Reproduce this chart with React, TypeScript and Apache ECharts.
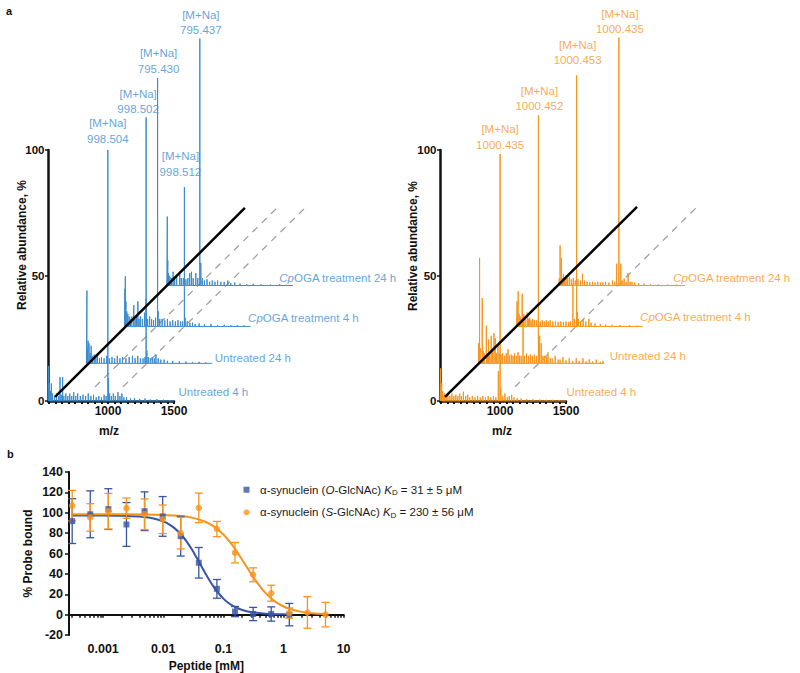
import React, { useEffect, useRef } from 'react';
import * as echarts from 'echarts';

const FONT = 'Arial';
const INK = '#111111';
const BLUE_A = '#3b8ccf';
const ORANGE = '#f7941d';
const BLUE_B = '#3a54a5';
const GREY_DASH = '#9a9a9a';

// ---------------- Panel a : stacked mass spectra ----------------
const traceNames = ['Untreated 4 h', 'Untreated 24 h', 'CpOGA treatment 4 h', 'CpOGA treatment 24 h'];
const traceShiftMz = [0, 290, 580, 900];
const traceShiftPct = [0, 15, 29.7, 46];
const spectrumStart = 546;
const spectrumEnd = 1500;
const mzMin = 545;
const mzMax = 1500;
const mzDataMax = 2500;
const mzLabelValues = [1000, 1500];
const mzTickValues = [550, 600, 650, 700, 750, 800, 850, 900, 950, 1000, 1050, 1100, 1150, 1200, 1250, 1300, 1350, 1400, 1450, 1500];
const abundanceMin = 0;
const abundanceMax = 100;
const abundanceStep = 50;

// minor peaks [m/z, relative abundance %] per trace (left, O-GlcNAc peptide)
const leftU4: number[][] = [[550, 14], [556, 7], [563, 4], [570, 7], [580, 3], [595, 2], [610, 3], [625, 2], [636, 9.5], [645, 2.5], [656, 9.5], [665, 2], [680, 3], [695, 2], [710, 3], [725, 2], [740, 3.5], [755, 2], [770, 3], [790, 2], [810, 2.5], [830, 2], [850, 3], [870, 2], [890, 2.5], [910, 1.5], [930, 2], [950, 1.5], [970, 2.5], [985, 2], [1004, 9], [1012, 3], [1025, 2], [1040, 3], [1055, 2], [1075, 3.5], [1090, 2], [1105, 3], [1120, 1.5], [1140, 1.5], [1170, 1], [1200, 1.2], [1240, 0.8], [1280, 1], [1320, 0.6], [1370, 0.7], [1420, 0.5], [1470, 0.4]];
const leftU24: number[][] = [[550, 29], [554, 6], [559, 9], [566, 8], [574, 4], [582, 7], [592, 3], [605, 3.5], [618, 2.5], [630, 3], [645, 2], [660, 2.5], [680, 2], [700, 3], [720, 2], [740, 2.5], [760, 2], [780, 3], [800, 2], [820, 2.5], [845, 2], [870, 2.5], [895, 3], [915, 2], [935, 3], [955, 2], [975, 2], [990, 2.5], [1004, 5], [1015, 2.5], [1030, 2], [1045, 2.5], [1060, 2], [1073, 3.5], [1090, 2], [1110, 1.5], [1135, 1.5], [1160, 1], [1200, 1], [1250, 0.8], [1300, 0.7], [1350, 0.5], [1400, 0.6], [1450, 0.4]];
const leftC4: number[][] = [[548, 15], [551, 20], [556, 10], [562, 6], [570, 5], [580, 4], [590, 3], [600, 4], [615, 8.5], [625, 3], [635, 4], [646, 10], [655, 3], [665, 4], [680, 3], [696, 5.5], [709, 11], [720, 3], [735, 4], [750, 3], [765, 2.5], [780, 3.5], [800, 6], [812, 3], [830, 3], [850, 2.5], [870, 3], [890, 2], [910, 2.5], [930, 2], [950, 2.5], [970, 2], [985, 2], [1004, 3.5], [1020, 2], [1040, 1.5], [1060, 1.5], [1080, 1], [1110, 1.2], [1150, 0.8], [1200, 1], [1250, 0.6], [1300, 0.7], [1350, 0.5], [1400, 0.5], [1450, 0.4]];
const leftC24: number[][] = [[549, 27.5], [553, 10], [557, 5], [562, 4], [570, 3.5], [580, 3], [593, 5.5], [605, 3], [620, 3.5], [643, 5.5], [655, 3], [670, 3], [690, 2.5], [705, 3], [719, 5], [732, 5.5], [745, 3], [765, 5], [780, 3], [803, 9], [815, 3], [830, 2], [850, 2.5], [870, 1.5], [890, 2], [910, 1.5], [930, 2], [955, 1.5], [980, 1.5], [1007, 2], [1030, 1], [1060, 1.2], [1100, 0.8], [1150, 0.6], [1200, 0.7], [1260, 0.5], [1330, 0.4], [1400, 0.5], [1450, 0.3]];
const leftMinor = [leftU4, leftU24, leftC4, leftC24];
const leftMajor = [
  { trace: 0, mz: 998.504, pct: 100 },
  { trace: 1, mz: 998.502, pct: 98 },
  { trace: 2, mz: 795.43, pct: 99 },
  { trace: 2, mz: 998.512, pct: 55.5 },
  { trace: 3, mz: 795.437, pct: 98.4 },
];

// right, S-GlcNAc peptide
const rightU4: number[][] = [[550, 13], [553, 6], [558, 7], [565, 4], [572, 2.5], [580, 3], [592, 2], [605, 3], [620, 2], [635, 3], [650, 2], [665, 2.5], [680, 2], [695, 3], [708, 2], [722, 3.7], [740, 2], [755, 2.5], [770, 1.5], [790, 2], [810, 1.5], [830, 2], [850, 1.5], [870, 2], [890, 1.5], [910, 2], [930, 1.5], [950, 2], [968, 1.5], [987, 12], [1006, 5], [1020, 2], [1037, 3], [1055, 1.5], [1070, 2], [1088, 2.5], [1105, 1.5], [1130, 1.2], [1160, 1], [1200, 0.8], [1250, 0.7], [1300, 0.6], [1350, 0.5], [1400, 0.5], [1450, 0.4]];
const rightU24: number[][] = [[548, 8], [555, 42], [560, 6], [575, 26], [582, 5], [590, 4], [606, 15], [615, 4], [623, 9.5], [632, 4], [643, 11], [652, 5], [664, 12], [674, 10], [684, 4], [694, 7], [705, 4], [718, 3.5], [730, 4], [745, 3], [757, 4], [770, 5.6], [782, 3], [795, 3.5], [808, 3], [820, 4], [833, 3], [846, 4.4], [858, 3], [870, 3], [884, 16], [895, 3], [910, 4], [925, 3], [940, 3.5], [955, 3], [970, 3.5], [985, 3], [1010, 11], [1022, 8], [1035, 3], [1048, 3], [1062, 2.5], [1073, 4.4], [1090, 2], [1105, 2], [1128, 3], [1150, 1.5], [1165, 1.5], [1187, 2.4], [1210, 1.2], [1234, 2], [1260, 1], [1287, 2], [1310, 1], [1338, 2], [1362, 0.8], [1386, 1.6], [1410, 0.8], [1439, 1.5], [1470, 0.6], [1490, 1]];
const rightC4: number[][] = [[549, 10], [553, 4], [558, 14], [565, 5], [572, 4], [580, 3], [588, 13], [595, 3], [600, 5], [610, 3], [626, 5.6], [635, 3], [645, 3.5], [655, 2.5], [668, 3], [680, 2.5], [695, 2.5], [710, 3], [725, 2], [740, 2.5], [755, 2], [770, 2.5], [785, 2], [800, 2.5], [820, 2], [840, 2], [860, 1.8], [880, 2], [900, 1.8], [920, 2], [940, 1.8], [955, 2], [972, 17], [985, 3], [1006, 5.7], [1015, 3], [1030, 2], [1050, 3], [1070, 2], [1093, 3], [1110, 1.5], [1140, 1.2], [1180, 1], [1220, 0.8], [1270, 0.7], [1330, 0.6], [1400, 0.5], [1460, 0.4]];
const rightC24: number[][] = [[549, 3], [555, 16], [565, 11], [572, 3], [581, 4.7], [590, 3], [600, 4], [612, 3], [625, 3.5], [640, 2.5], [655, 3], [670, 2], [690, 2.5], [710, 2], [725, 4.7], [740, 2], [760, 1.5], [780, 1.3], [800, 1.5], [820, 1.2], [840, 1.5], [860, 1.2], [880, 1.3], [900, 1.5], [925, 1.2], [952, 2], [970, 1.5], [984, 8.7], [1015, 8.7], [1025, 2], [1040, 2.8], [1055, 1.5], [1070, 5], [1085, 1.5], [1100, 1.5], [1120, 1.2], [1150, 1], [1190, 0.8], [1240, 0.6], [1300, 0.5], [1370, 0.4], [1440, 0.4]];
const rightMinor = [rightU4, rightU24, rightC4, rightC24];
const rightMajor = [
  { trace: 0, mz: 1000.435, pct: 98.4 },
  { trace: 1, mz: 1000.452, pct: 98.8 },
  { trace: 2, mz: 1000.453, pct: 100 },
  { trace: 3, mz: 1000.435, pct: 98.8 },
];

// guide lines (m/z in the shifted frame, %)
const leftGuide = [[598, 1.6], [2037, 76.9]];
const leftDashed = [[[901, 5.6], [2280, 76.9]], [[1113, 5.6], [2492, 76.9]]];
const rightGuide = [[583, 1.6], [2038, 77.3]];
const rightDashed = [[[1113, 5.6], [2492, 77.3]]];

// label nudges (px) – style only
const leftMajorShift = [[0, -3], [-8, 0], [1, -1], [-4, -7], [1, 0]];
const rightMajorShift = [[0, -1], [1, -1], [1, -7], [1, 0]];
const leftTraceLabelShift = [[4, -9], [2, -5], [-3, -8], [-14, -8]];
const rightTraceLabelShift = [[0, -9], [5, -7], [-3, -9], [-12, -8]];

// ---------------- Panel b : binding curves ----------------
const concMM = [0.000305, 0.00061, 0.00122, 0.00244, 0.00488, 0.00977, 0.0195, 0.039, 0.078, 0.156, 0.3125, 0.625, 1.25, 2.5, 5];
const oGlcMean = [91.8, 98.5, 103.6, 88.5, 101.5, 96.4, 77, 50.9, 25.3, 3, 0.6, 0.6, 0];
const oGlcErr = [22, 23, 20, 21.5, 19, 19.5, 19.5, 15, 9.2, 5, 6.5, 7, 11];
const sGlcMean = [107, 95.4, 101.5, 104.5, 98.5, 93.6, 80, 104.8, 84, 60.8, 39.1, 21, 1.5, 2.1, 0];
const sGlcErr = [15, 13.5, 17.5, 10, 15, 14, 15.5, 14.5, 7.5, 10, 6.8, 7.8, 5, 15.5, 12];
const oFitX = [0.000305, 0.001, 0.002, 0.004, 0.006, 0.008, 0.01, 0.0125, 0.015, 0.02, 0.025, 0.03, 0.035, 0.04, 0.05, 0.06, 0.07, 0.08, 0.1, 0.12, 0.15, 0.2, 0.3, 0.5, 0.8, 1.25];
const oFitY = [97.4, 97.3, 97.0, 96.2, 95.0, 93.4, 91.5, 88.6, 85.4, 78.4, 71.0, 63.9, 57.1, 51.0, 40.7, 32.8, 26.8, 22.2, 15.7, 11.7, 8.0, 4.8, 2.3, 0.9, 0.4, 0.1];
const sFitX = [0.000305, 0.001, 0.005, 0.01, 0.02, 0.03, 0.05, 0.07, 0.1, 0.13, 0.16, 0.2, 0.25, 0.3, 0.4, 0.5, 0.7, 1.0, 1.5, 2.0, 3.0, 5.0];
const sFitY = [98.5, 98.5, 98.3, 97.9, 96.8, 95.2, 91.2, 86.4, 78.6, 70.9, 63.5, 54.9, 45.9, 38.6, 28.2, 21.4, 13.5, 8.0, 4.3, 2.7, 1.4, 0.6];
const concLabelValues = [0.001, 0.01, 0.1, 1, 10];
const concMin = 0.00027;
const concMax = 10;
const boundMin = -20;
const boundMax = 140;
const boundStep = 20;
const legendNames = ['O', 'S'];

function buildTrace(peaks: number[][], k: number): number[][] {
  const sx = traceShiftMz[k];
  const sy = traceShiftPct[k];
  const pts: number[][] = [[spectrumStart + sx, sy]];
  for (const [mz, h] of peaks) {
    pts.push([mz + sx, sy], [mz + sx, sy + h], [mz + sx, sy]);
  }
  pts.push([spectrumEnd + sx, sy]);
  return pts;
}

const richTrace = (name: string) =>
  name.startsWith('Cp') ? `{i|Cp}{t|${name.slice(2)}}` : `{t|${name}}`;

function spectrumSeries(
  xi: number,
  minor: number[][][],
  major: { trace: number; mz: number; pct: number }[],
  majorShift: number[][],
  traceShift: number[][],
  guide: number[][],
  dashed: number[][][],
  color: string
) {
  const out: any[] = [];
  dashed.forEach((seg) =>
    out.push({
      type: 'line', xAxisIndex: xi, yAxisIndex: xi, data: seg, symbol: 'none', clip: false, silent: true, z: 2,
      lineStyle: { color: GREY_DASH, width: 1.2, type: [7, 6] },
    })
  );
  minor.forEach((peaks, k) => {
    const all = peaks
      .concat(major.filter((m) => m.trace === k).map((m) => [m.mz, m.pct]))
      .sort((a, b) => a[0] - b[0]);
    out.push({
      type: 'line', xAxisIndex: xi, yAxisIndex: xi, data: buildTrace(all, k), symbol: 'none', clip: false,
      silent: true, z: 3, lineStyle: { color, width: 1 },
    });
  });
  out.push({
    type: 'line', xAxisIndex: xi, yAxisIndex: xi, data: guide, symbol: 'none', clip: false, silent: true, z: 4,
    lineStyle: { color: '#000', width: 2.5 },
  });
  out.push({
    type: 'scatter', xAxisIndex: xi, yAxisIndex: xi, symbolSize: 1, clip: false, silent: true, z: 5,
    itemStyle: { color: 'rgba(0,0,0,0)' },
    data: major.map((m, i) => ({
      value: [m.mz + traceShiftMz[m.trace], m.pct + traceShiftPct[m.trace]],
      label: { offset: majorShift[i] },
    })),
    label: {
      show: true, position: 'top', distance: 0, color, fontSize: 11.5, lineHeight: 15.5, fontFamily: FONT,
      align: 'center',
      formatter: (p: any) => '[M+Na]\n' + major[p.dataIndex].mz.toFixed(3),
    },
  });
  out.push({
    type: 'scatter', xAxisIndex: xi, yAxisIndex: xi, symbolSize: 1, clip: false, silent: true, z: 6,
    itemStyle: { color: 'rgba(0,0,0,0)' },
    data: traceNames.map((n, k) => ({
      value: [spectrumEnd + traceShiftMz[k], traceShiftPct[k]],
      label: { offset: traceShift[k] },
    })),
    label: {
      show: true, position: 'right', distance: 0,
      formatter: (p: any) => richTrace(traceNames[p.dataIndex]),
      rich: {
        t: { color, fontSize: 11.5, fontFamily: FONT },
        i: { color, fontSize: 11.5, fontFamily: FONT, fontStyle: 'italic' },
      },
    },
  });
  return out;
}

function spectrumAxes(xi: number) {
  return {
    x: [
      {
        gridIndex: xi - 1, type: 'value', min: mzMin, max: mzMax,
        axisLine: { show: true, onZero: false, lineStyle: { color: INK, width: 2.5 } },
        axisTick: { show: true, customValues: mzTickValues, length: 3, lineStyle: { color: INK, width: 2 } },
        axisLabel: {
          customValues: mzLabelValues, color: INK, fontWeight: 'bold', fontSize: 12, fontFamily: FONT, margin: 4,
          formatter: (v: number) => String(Math.round(v)),
        },
        splitLine: { show: false },
      },
      { gridIndex: xi, type: 'value', min: mzMin, max: mzDataMax, show: false },
    ],
    y: [
      {
        gridIndex: xi - 1, type: 'value', min: abundanceMin, max: abundanceMax, interval: abundanceStep,
        axisLine: { show: true, onZero: false, lineStyle: { color: INK, width: 2.5 } },
        axisTick: { show: true, length: 3, lineStyle: { color: INK, width: 1.5 } },
        axisLabel: { color: INK, fontWeight: 'bold', fontSize: 11.5, fontFamily: FONT, margin: 3.5 },
        splitLine: { show: false },
      },
      { gridIndex: xi, type: 'value', min: abundanceMin, max: abundanceMax, show: false },
    ],
  };
}

const logMinorTicks: number[] = [];
[0.0001, 0.001, 0.01, 0.1, 1].forEach((d) => {
  for (let m = 1; m <= 9; m++) {
    const v = +(d * m).toPrecision(3);
    if (v >= concMin && v <= concMax) logMinorTicks.push(v);
  }
});
logMinorTicks.push(10);

const legendText: Record<string, string> = {
  O: '{p|α-synuclein (}{i|O}{t|-GlcNAc) }{i|K}{s|D}{t| = 31 ± 5 μM}',
  S: '{p|α-synuclein (}{i|S}{t|-GlcNAc) }{i|K}{s|D}{t| = 230 ± 56 μM}',
};

function errorBars(means: number[], errs: number[], color: string) {
  return {
    type: 'custom', xAxisIndex: 4, yAxisIndex: 4, silent: true, z: 3,
    encode: { x: 0, y: [1, 2] },
    data: means.map((m, i) => [concMM[i], m - errs[i], m + errs[i]]),
    renderItem: (_params: any, api: any) => {
      const x = api.value(0);
      const lo = api.coord([x, api.value(1)]);
      const hi = api.coord([x, api.value(2)]);
      const w = 4;
      const st = { stroke: color, lineWidth: 1.3 };
      return {
        type: 'group',
        children: [
          { type: 'line', shape: { x1: hi[0], y1: hi[1], x2: lo[0], y2: lo[1] }, style: st },
          { type: 'line', shape: { x1: hi[0] - w, y1: hi[1], x2: hi[0] + w, y2: hi[1] }, style: st },
          { type: 'line', shape: { x1: lo[0] - w, y1: lo[1], x2: lo[0] + w, y2: lo[1] }, style: st },
        ],
      };
    },
  };
}

export default function App() {
  const ref = useRef<HTMLDivElement>(null);
  useEffect(() => {
    document.body.style.margin = '0';
    if (!ref.current) return;
    const chart = echarts.init(ref.current, undefined, { renderer: 'svg' });
    const L = spectrumAxes(1);
    const R = spectrumAxes(3);
    const option: any = {
      animation: false,
      backgroundColor: '#ffffff',
      textStyle: { fontFamily: FONT },
      grid: [
        { left: 48, top: 150, width: 126, height: 251 },
        { left: 48, top: 150, width: 258, height: 251 },
        { left: 440, top: 150, width: 126, height: 251 },
        { left: 440, top: 150, width: 258, height: 251 },
        { left: 69, top: 472, width: 274.6, height: 178 },
      ],
      xAxis: [
        ...L.x,
        ...R.x,
        {
          gridIndex: 4, type: 'log', logBase: 10, min: concMin, max: concMax,
          name: 'Peptide [mM]', nameLocation: 'middle', nameGap: 25,
          nameTextStyle: { color: INK, fontWeight: 'bold', fontSize: 12, fontFamily: FONT },
          axisLine: { show: true, onZero: true, lineStyle: { color: INK, width: 2 } },
          axisTick: { show: true, customValues: logMinorTicks, length: 3, lineStyle: { color: INK, width: 1.5 } },
          axisLabel: {
            customValues: concLabelValues, color: INK, fontWeight: 'bold', fontSize: 12.5, fontFamily: FONT, margin: 7,
            formatter: (v: number) => String(+Number(v).toPrecision(3)),
          },
          splitLine: { show: false },
          minorSplitLine: { show: false },
        },
      ],
      yAxis: [
        ...L.y,
        ...R.y,
        {
          gridIndex: 4, type: 'value', min: boundMin, max: boundMax, interval: boundStep,
          name: '% Probe bound', nameLocation: 'middle', nameGap: 35,
          nameTextStyle: { color: INK, fontWeight: 'bold', fontSize: 12, fontFamily: FONT },
          axisLine: { show: true, onZero: false, lineStyle: { color: INK, width: 2 } },
          axisTick: { show: true, length: 4, lineStyle: { color: INK, width: 1.5 } },
          axisLabel: { color: INK, fontWeight: 'bold', fontSize: 12.5, fontFamily: FONT, margin: 6 },
          splitLine: { show: false },
        },
      ],
      legend: {
        show: true, orient: 'vertical', left: 238.5, top: 478.7, itemGap: 9.6, itemWidth: 6, itemHeight: 6,
        selectedMode: false,
        data: [{ name: 'O', icon: 'rect' }, { name: 'S', icon: 'circle' }],
        formatter: (name: string) => legendText[name],
        textStyle: {
          color: '#1a1a1a', fontSize: 11.5, fontFamily: FONT,
          rich: {
            p: { fontSize: 11.5, fontFamily: FONT, color: '#1a1a1a', padding: [0, 0, 0, 5.5], lineHeight: 14 },
            t: { fontSize: 11.5, fontFamily: FONT, color: '#1a1a1a', lineHeight: 14 },
            i: { fontSize: 11.5, fontFamily: FONT, color: '#1a1a1a', fontStyle: 'italic', lineHeight: 14 },
            s: { fontSize: 8, fontFamily: FONT, color: '#1a1a1a', lineHeight: 8, verticalAlign: 'bottom' },
          },
        },
      },
      graphic: [
        { type: 'text', left: 6, top: 5, style: { text: 'a', fill: INK, font: 'bold 11px Arial' } },
        { type: 'text', left: 7, top: 448, style: { text: 'b', fill: INK, font: 'bold 11px Arial' } },
        { type: 'text', x: 109, y: 431, style: { text: 'm/z', fill: INK, font: 'bold 12px Arial', align: 'center', verticalAlign: 'middle' } },
        { type: 'text', x: 502, y: 431, style: { text: 'm/z', fill: INK, font: 'bold 12px Arial', align: 'center', verticalAlign: 'middle' } },
        { type: 'text', x: 21.7, y: 245, rotation: Math.PI / 2, style: { text: 'Relative abundance, %', fill: INK, font: 'bold 12px Arial', align: 'center', verticalAlign: 'middle' } },
        { type: 'text', x: 413.3, y: 246, rotation: Math.PI / 2, style: { text: 'Relative abundance, %', fill: INK, font: 'bold 12px Arial', align: 'center', verticalAlign: 'middle' } },
      ],
      series: [
        { type: 'line', xAxisIndex: 0, yAxisIndex: 0, data: [], silent: true },
        { type: 'line', xAxisIndex: 2, yAxisIndex: 2, data: [], silent: true },
        ...spectrumSeries(1, leftMinor, leftMajor, leftMajorShift, leftTraceLabelShift, leftGuide, leftDashed, BLUE_A),
        ...spectrumSeries(3, rightMinor, rightMajor, rightMajorShift, rightTraceLabelShift, rightGuide, rightDashed, ORANGE),
        {
          type: 'line', name: 'O fit', xAxisIndex: 4, yAxisIndex: 4, smooth: 0.3, symbol: 'none', silent: true, z: 2,
          data: oFitX.map((x, i) => [x, oFitY[i]]), lineStyle: { color: BLUE_B, width: 2 },
        },
        {
          type: 'line', name: 'S fit', xAxisIndex: 4, yAxisIndex: 4, smooth: 0.3, symbol: 'none', silent: true, z: 2,
          data: sFitX.map((x, i) => [x, sFitY[i]]), lineStyle: { color: ORANGE, width: 2 },
        },
        errorBars(oGlcMean, oGlcErr, BLUE_B),
        errorBars(sGlcMean, sGlcErr, ORANGE),
        {
          type: 'scatter', name: legendNames[0], xAxisIndex: 4, yAxisIndex: 4, symbol: 'rect', symbolSize: 6, z: 5,
          itemStyle: { color: BLUE_B }, data: oGlcMean.map((v, i) => [concMM[i], v]),
        },
        {
          type: 'scatter', name: legendNames[1], xAxisIndex: 4, yAxisIndex: 4, symbol: 'circle', symbolSize: 6.5, z: 5,
          itemStyle: { color: ORANGE }, data: sGlcMean.map((v, i) => [concMM[i], v]),
        },
      ],
    };
    chart.setOption(option);
    return () => chart.dispose();
  }, []);
  return <div ref={ref} style={{ position: 'absolute', left: 0, top: 0, width: 800, height: 673 }} />;
}
